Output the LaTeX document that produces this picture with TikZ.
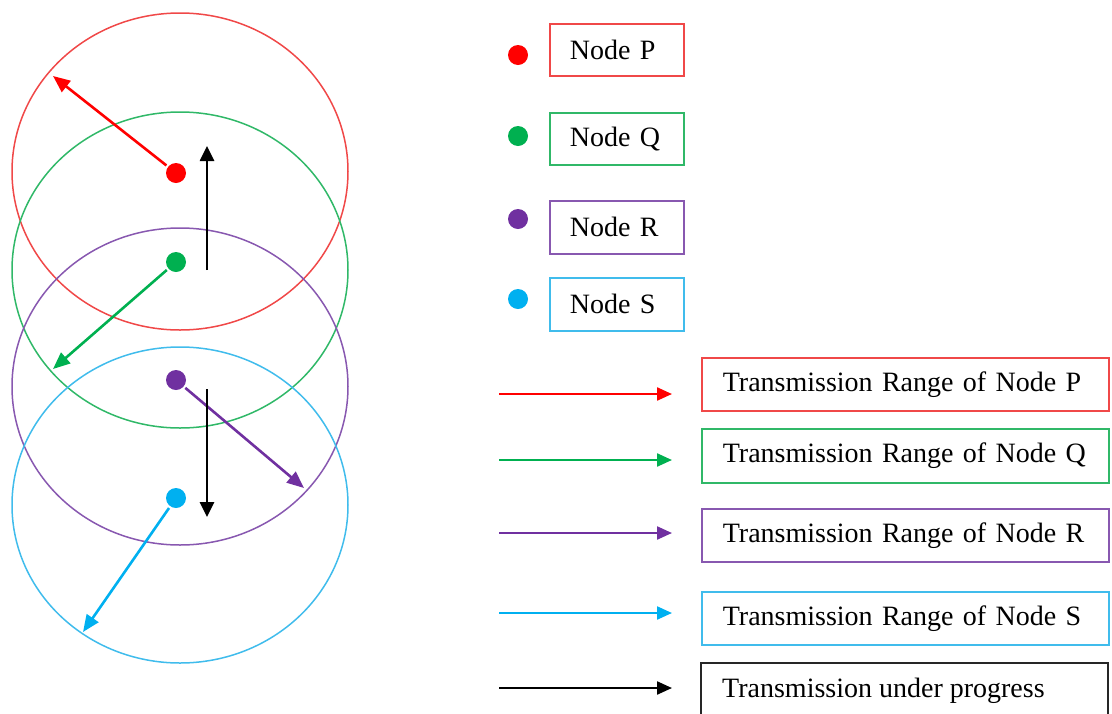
\documentclass[tikz,border=0pt]{standalone}
\usepackage{fontspec}
\setmainfont{Liberation Serif}
\usetikzlibrary{arrows.meta}
\definecolor{cP}{HTML}{FF0000}
\definecolor{cQ}{HTML}{00B050}
\definecolor{cR}{HTML}{7030A0}
\definecolor{cS}{HTML}{00B0F0}
% lighter tones for outlines
\definecolor{lP}{HTML}{F04848}
\definecolor{lQ}{HTML}{30B868}
\definecolor{lR}{HTML}{8858B0}
\definecolor{lS}{HTML}{40BCEC}
\tikzset{
  dot/.style={circle,fill=#1,inner sep=0pt,minimum size=20pt},
  range/.style={draw=#1,line width=1.5pt},
  ray/.style={draw=#1,line width=2.6pt,shorten <=2pt,-{Triangle[length=17pt,width=14pt]}},
  keyarrow/.style={draw=#1,line width=2.3pt,-{Triangle[length=15pt,width=13pt]}},
  keybox/.style n args={2}{draw=#1,line width=1.6pt,rectangle,anchor=north west,
    inner xsep=#2,inner ysep=0pt,align=left,font=\fontsize{28}{32}\selectfont},
}
\begin{document}
\begin{tikzpicture}[x=1pt,y=-1pt]
\useasboundingbox (0,0) rectangle (1112,713);

% transmission ranges
\draw[range=lP] (180,171.5) ellipse [x radius=168,y radius=158.5];
\draw[range=lQ] (180,270) ellipse [x radius=168,y radius=158];
\draw[range=lR] (180,386.5) ellipse [x radius=168,y radius=158.5];
\draw[range=lS] (180,505) ellipse [x radius=168,y radius=158];

% nodes
\node[dot=cP] (P) at (176,173) {};
\node[dot=cQ] (Q) at (176,262) {};
\node[dot=cR] (R) at (176,380) {};
\node[dot=cS] (S) at (176,498) {};

% range rays
\coordinate (Pend) at (53,76);
\coordinate (Qend) at (53,369);
\coordinate (Rend) at (304,488);
\coordinate (Send) at (83,632);
\draw[ray=cP] (P) -- (Pend);
\draw[ray=cQ] (Q) -- (Qend);
\draw[ray=cR] (R) -- (Rend);
\draw[ray=cS] (S) -- (Send);

% transmissions under progress
\coordinate (upA) at (207,270);
\coordinate (upB) at (207,146);
\coordinate (dnA) at (207,389);
\coordinate (dnB) at (207,517);
\draw[ray=black,shorten <=0pt,-{Triangle[length=15pt,width=14pt]}] (upA) -- (upB);
\draw[ray=black,shorten <=0pt,-{Triangle[length=15pt,width=14pt]}] (dnA) -- (dnB);

% legend: nodes
\node[dot=cP] (kP) at (518,55) {};
\node[dot=cQ] (kQ) at (518,136) {};
\node[dot=cR] (kR) at (518,219) {};
\node[dot=cS] (kS) at (518,299) {};
\node[keybox={lP}{20pt},text width=94pt,minimum height=52pt] (tP) at (549,23) {Node P};
\node[keybox={lQ}{20pt},text width=94pt,minimum height=52pt] (tQ) at (549,112) {Node Q};
\node[keybox={lR}{20pt},text width=94pt,minimum height=53pt] (tR) at (549,200) {Node R};
\node[keybox={lS}{20pt},text width=94pt,minimum height=53pt] (tS) at (549,277) {Node S};

% legend: arrows
\coordinate (aP0) at (499,394); \coordinate (aP1) at (672,394);
\coordinate (aQ0) at (499,460); \coordinate (aQ1) at (672,460);
\coordinate (aR0) at (499,533); \coordinate (aR1) at (672,533);
\coordinate (aS0) at (499,613); \coordinate (aS1) at (672,613);
\coordinate (aK0) at (499,688); \coordinate (aK1) at (672,688);
\draw[keyarrow=cP] (aP0) -- (aP1);
\draw[keyarrow=cQ] (aQ0) -- (aQ1);
\draw[keyarrow=cR] (aR0) -- (aR1);
\draw[keyarrow=cS] (aS0) -- (aS1);
\draw[keyarrow=black] (aK0) -- (aK1);

\node[keybox={lP}{21pt},text width=365pt,minimum height=53pt] (rP) at (701,357) {Transmission Range of Node P};
\node[keybox={lQ}{21pt},text width=365pt,minimum height=54pt] (rQ) at (701,428) {Transmission Range of Node Q};
\node[keybox={lR}{21pt},text width=365pt,minimum height=53pt] (rR) at (701,508) {Transmission Range of Node R};
\node[keybox={lS}{21pt},text width=365pt,minimum height=53pt] (rS) at (701,591) {Transmission Range of Node S};

% last key box runs off the lower edge
\node[anchor=west,inner xsep=21pt,font=\fontsize{28}{32}\selectfont] (rK) at (701,691) {Transmission under progress};
\draw[black!85,line width=1.6pt] (701,714) -- (701,663) -- (1108,663) -- (1108,714);
\end{tikzpicture}
\end{document}
